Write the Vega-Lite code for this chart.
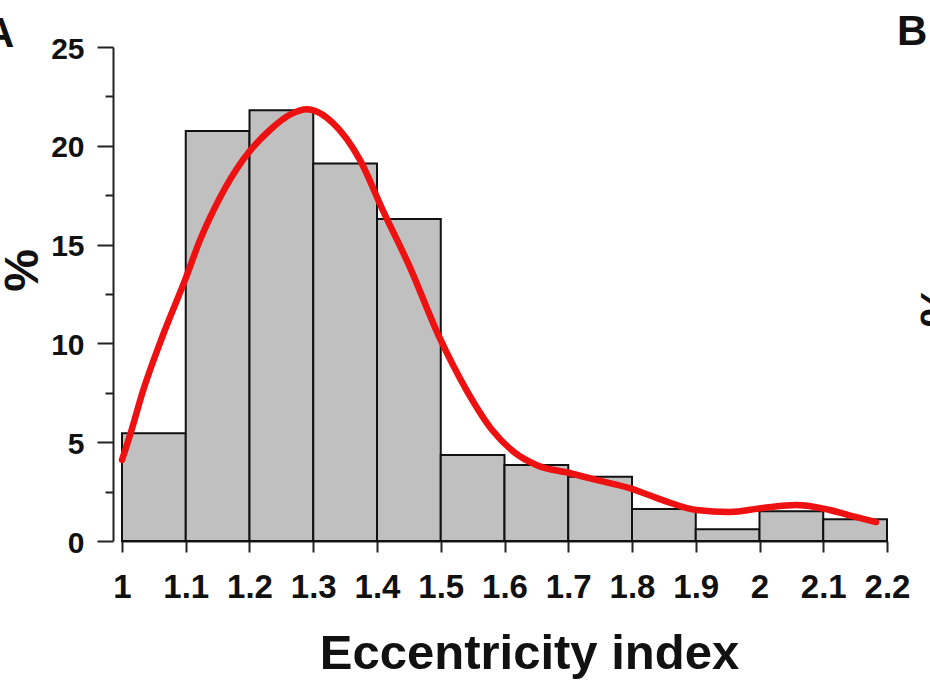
{
  "$schema": "https://vega.github.io/schema/vega-lite/v6.json",
  "width": 765,
  "height": 494,
  "autosize": {"type": "none"},
  "padding": {"left": 122, "top": 47, "right": 43, "bottom": 139},
  "background": "white",
  "config": {
    "view": {"stroke": null},
    "font": "Liberation Sans"
  },
  "datasets": {
    "bins": [
      {"lo": 1.0, "hi": 1.1, "pct": 5.45},
      {"lo": 1.1, "hi": 1.2, "pct": 20.75},
      {"lo": 1.2, "hi": 1.3, "pct": 21.8},
      {"lo": 1.3, "hi": 1.4, "pct": 19.1},
      {"lo": 1.4, "hi": 1.5, "pct": 16.3},
      {"lo": 1.5, "hi": 1.6, "pct": 4.35},
      {"lo": 1.6, "hi": 1.7, "pct": 3.85},
      {"lo": 1.7, "hi": 1.8, "pct": 3.25},
      {"lo": 1.8, "hi": 1.9, "pct": 1.62},
      {"lo": 1.9, "hi": 2.0, "pct": 0.6},
      {"lo": 2.0, "hi": 2.1, "pct": 1.5},
      {"lo": 2.1, "hi": 2.2, "pct": 1.1}
    ],
    "curve": [
      {"ei": 1.0, "density": 4.1},
      {"ei": 1.013, "density": 5.4},
      {"ei": 1.033, "density": 7.6},
      {"ei": 1.064, "density": 10.4},
      {"ei": 1.1, "density": 13.3},
      {"ei": 1.122, "density": 15.2},
      {"ei": 1.154, "density": 17.4},
      {"ei": 1.19, "density": 19.3},
      {"ei": 1.232, "density": 20.8},
      {"ei": 1.265, "density": 21.6},
      {"ei": 1.29, "density": 21.85},
      {"ei": 1.331, "density": 21.15},
      {"ei": 1.373, "density": 19.3},
      {"ei": 1.409, "density": 16.75},
      {"ei": 1.451, "density": 13.9},
      {"ei": 1.498, "density": 10.3},
      {"ei": 1.541, "density": 7.6},
      {"ei": 1.581, "density": 5.6},
      {"ei": 1.615, "density": 4.5},
      {"ei": 1.65, "density": 3.85},
      {"ei": 1.702, "density": 3.44},
      {"ei": 1.744, "density": 3.09},
      {"ei": 1.796, "density": 2.68},
      {"ei": 1.848, "density": 2.07},
      {"ei": 1.901, "density": 1.57},
      {"ei": 1.953, "density": 1.47},
      {"ei": 2.005, "density": 1.67},
      {"ei": 2.058, "density": 1.82},
      {"ei": 2.11, "density": 1.57},
      {"ei": 2.152, "density": 1.21},
      {"ei": 2.183, "density": 0.96}
    ],
    "panels": [
      {"panel": "A"}
    ]
  },
  "resolve": {"axis": {"y": "independent"}},
  "layer": [
    {
      "data": {"name": "bins"},
      "mark": {"type": "rect", "fill": "#c0c0c0", "stroke": "#111111", "strokeWidth": 2},
      "encoding": {
        "x": {
          "field": "lo", "type": "quantitative",
          "scale": {"domain": [1, 2.2], "nice": false, "zero": false},
          "axis": {
            "values": [1, 1.1, 1.2, 1.3, 1.4, 1.5, 1.6, 1.7, 1.8, 1.9, 2, 2.1, 2.2],
            "format": "~g",
            "grid": false,
            "domainColor": "#222222", "domainWidth": 2,
            "tickColor": "#222222", "tickWidth": 2, "tickSize": 11,
            "labelFont": "Liberation Sans", "labelFontWeight": "bold", "labelFontSize": 33,
            "labelColor": "#111111", "labelBaseline": "alphabetic", "labelPadding": 45,
            "labelFlush": false, "labelOverlap": false, "labelBound": false,
            "title": "Eccentricity index",
            "titleFont": "Liberation Sans", "titleFontWeight": "bold", "titleFontSize": 49,
            "titleColor": "#111111", "titleX": 407, "titleY": 127,
            "titleAlign": "center", "titleBaseline": "alphabetic"
          }
        },
        "x2": {"field": "hi"},
        "y": {
          "field": "pct", "type": "quantitative",
          "scale": {"domain": [0, 25], "nice": false},
          "axis": {
            "orient": "left",
            "offset": 9,
            "values": [0, 5, 10, 15, 20, 25],
            "grid": false,
            "domainColor": "#222222", "domainWidth": 2,
            "tickColor": "#222222", "tickWidth": 2, "tickSize": 16,
            "labelFont": "Liberation Sans", "labelFontWeight": "bold", "labelFontSize": 30,
            "labelColor": "#111111", "labelPadding": 13, "labelOffset": 2,
            "labelOverlap": false, "labelBound": false, "labelFlush": false,
            "title": "%",
            "titleFont": "Liberation Sans", "titleFontWeight": "bold", "titleFontSize": 48,
            "titleColor": "#111111", "titleAngle": 270, "titleX": -90, "titleY": 223,
            "titleAlign": "center", "titleBaseline": "middle"
          }
        },
        "y2": {"datum": 0}
      }
    },
    {
      "data": {"name": "curve"},
      "mark": {"type": "line", "stroke": "#ee1111", "strokeWidth": 6.5, "interpolate": "monotone", "strokeCap": "round"},
      "encoding": {
        "x": {"field": "ei", "type": "quantitative"},
        "y": {
          "field": "density", "type": "quantitative",
          "axis": {
            "orient": "left",
            "offset": 9,
            "values": [2.5, 7.5, 12.5, 17.5, 22.5],
            "grid": false, "domain": false, "labels": false, "title": null,
            "tickColor": "#222222", "tickWidth": 2, "tickSize": 8
          }
        }
      }
    },
    {
      "data": {"name": "panels"},
      "mark": {"type": "text", "text": "A", "font": "Liberation Sans", "fontWeight": "bold", "fontSize": 42, "align": "right", "baseline": "alphabetic", "color": "#111111"},
      "encoding": {
        "x": {"datum": 0.831},
        "y": {"datum": 25, "axis": null}
      }
    },
    {
      "data": {"name": "panels"},
      "mark": {"type": "text", "text": "B", "font": "Liberation Sans", "fontWeight": "bold", "fontSize": 42, "align": "left", "baseline": "alphabetic", "color": "#111111"},
      "encoding": {
        "x": {"datum": 2.2157},
        "y": {"datum": 25.1, "axis": null}
      }
    },
    {
      "data": {"name": "panels"},
      "mark": {"type": "text", "text": "%", "font": "Liberation Sans", "fontWeight": "bold", "fontSize": 48, "align": "center", "baseline": "middle", "angle": 270, "color": "#111111"},
      "encoding": {
        "x": {"datum": 2.283},
        "y": {"datum": 11.9, "axis": null}
      }
    }
  ]
}
